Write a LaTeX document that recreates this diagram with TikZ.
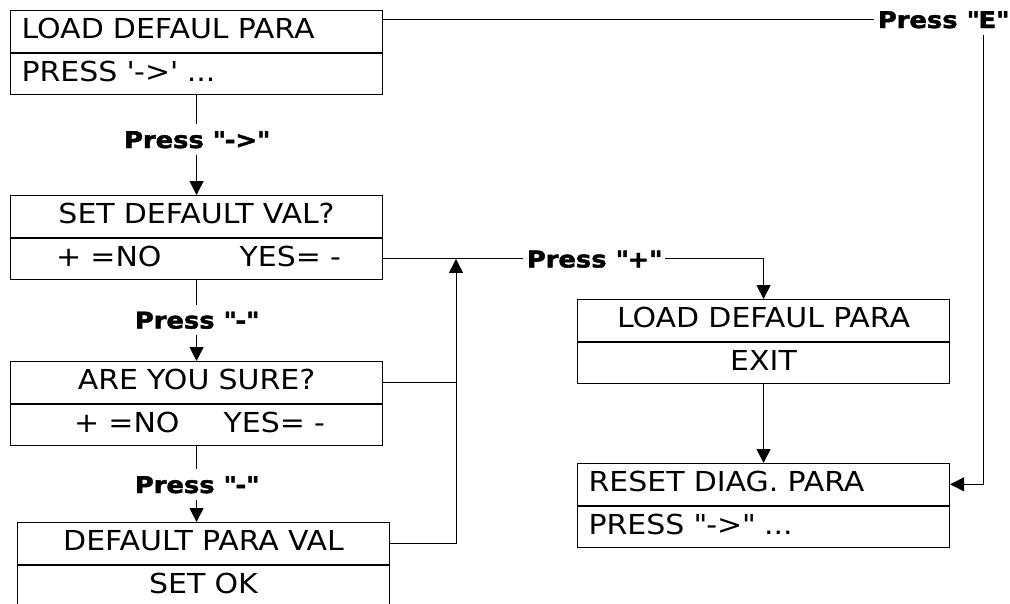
\documentclass[tikz,border=0pt]{standalone}
\usepackage{fontspec}
\setmainfont{DejaVu Sans}[FakeStretch=1.09]
\newfontfamily\keyfont{DejaVu Sans Bold}[FakeStretch=1.12, FakeBold=2]
\usetikzlibrary{arrows.meta}
\begin{document}
\begin{tikzpicture}[x=1pt,y=-1pt,
  rowbox/.style={draw, line width=1.1pt, minimum height=41.5pt, text width=350pt,
    inner xsep=11pt, inner ysep=0pt, text height=20pt, text depth=5pt,
    font=\fontsize{27.5}{30}\selectfont, anchor=north west},
  lft/.style={rowbox, align=left},
  ctr/.style={rowbox, align=center},
  key/.style={font=\keyfont\fontsize{23}{25}\selectfont,
    inner xsep=4pt, inner ysep=6.5pt, text height=17pt, text depth=0pt},
  link/.style={line width=1pt},
  arr/.style={link, -{Triangle[length=14pt,width=14pt]}}]
\useasboundingbox (0,0) rectangle (1010,603);

% menu screens (two rows each)
\node[lft] (b1a) at (10,10) {LOAD DEFAUL PARA};
\node[lft] (b1b) at (b1a.south west) {PRESS \textquotesingle->\textquotesingle\ ...};
\node[ctr] (b2a) at (10,195) {SET DEFAULT VAL?};
\node[ctr] (b2b) at (b2a.south west) {\hspace{4pt}+ =NO\hspace{78pt}YES= -};
\node[ctr] (b3a) at (10,361) {ARE YOU SURE?};
\node[ctr] (b3b) at (b3a.south west) {\hspace{6pt}+ =NO\hspace{44pt}YES= -};
\node[ctr] (b4a) at (17,522) {DEFAULT PARA VAL};
\node[ctr] (b4b) at (b4a.south west) {SET OK};
\node[ctr] (b5a) at (577,299) {LOAD DEFAUL PARA};
\node[ctr] (b5b) at (b5a.south west) {EXIT};
\node[lft] (b6a) at (577,463) {RESET DIAG. PARA};
\node[lft] (b6b) at (b6a.south west) {PRESS \textquotedbl->\textquotedbl\ ...};

% key labels
\node[key] (k1) at (b1b.south |- 0,139.5) {Press \textquotedbl->\textquotedbl};
\node[key] (k2) at (b2b.south |- 0,320) {Press \textquotedbl-\textquotedbl};
\node[key] (k3) at (b3b.south |- 0,484.5) {Press \textquotedbl-\textquotedbl};
\node[key] (k4) at (594,0 |- b2b.east) {Press \textquotedbl+\textquotedbl};
\node[key] (k5) at (943,19.5) {Press \textquotedbl E\textquotedbl};

\coordinate (join) at (456,0 |- b2b.east);
\coordinate (eline) at (983,0);

% main chain
\draw[link] (b1b.south) -- (k1.north);
\draw[arr] (k1.south) -- (b2a.north);
\draw[link] (b2b.south) -- (k2.north);
\draw[arr] (k2.south) -- (b3a.north);
\draw[link] (b3b.south) -- (k3.north);
\draw[arr] (k3.south) -- (k3.south |- b4a.north);

% exit branch
\draw[link] (b2b.east) -- (k4.west);
\draw[arr] (k4.east) -| (b5a.north);
\draw[arr] (b4a.east) -| (join);
\draw[link] (b3a.east) -- (b3a.east -| join);
\draw[arr] (b5b.south) -- (b6a.north);

% escape branch
\draw[link] (k5.west -| b1a.east) -- (k5.west);
\draw[arr] (k5.south -| eline) |- (b6a.east);
\end{tikzpicture}
\end{document}
